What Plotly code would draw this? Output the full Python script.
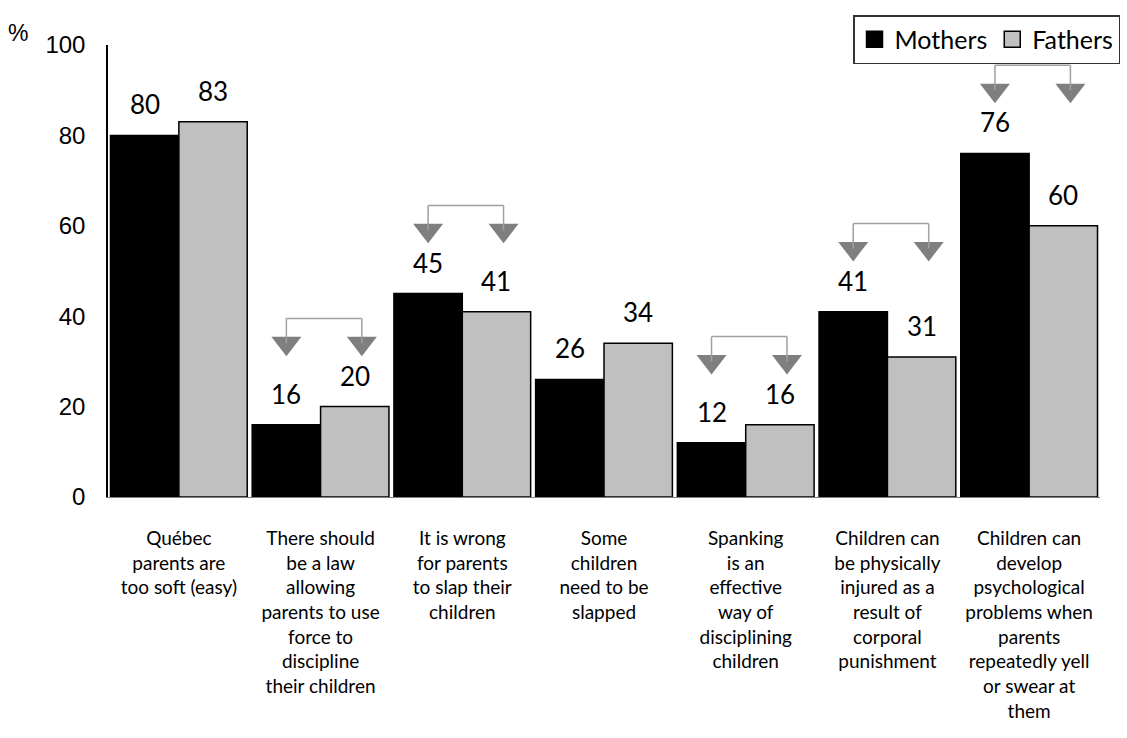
import plotly.graph_objects as go

categories = [
    "Québec<br>parents are<br>too soft (easy)",
    "There should<br>be a law<br>allowing<br>parents to use<br>force to<br>discipline<br>their children",
    "It is wrong<br>for parents<br>to slap their<br>children",
    "Some<br>children<br>need to be<br>slapped",
    "Spanking<br>is an<br>effective<br>way of<br>disciplining<br>children",
    "Children can<br>be physically<br>injured as a<br>result of<br>corporal<br>punishment",
    "Children can<br>develop<br>psychological<br>problems when<br>parents<br>repeatedly yell<br>or swear at<br>them",
]
mothers = [80, 16, 45, 26, 12, 41, 76]
fathers = [83, 20, 41, 34, 16, 31, 60]
significant = [False, True, True, False, True, True, True]
y_ticks = [0, 20, 40, 60, 80, 100]

FONT = "Lato"
bargap = 0.035
bw = (1 - bargap) / 2
xs = list(range(len(categories)))

fig = go.Figure()
fig.add_trace(go.Bar(x=xs, y=mothers, name="Mothers", marker=dict(color="black", line=dict(color="black", width=1.5)), showlegend=False))
fig.add_trace(go.Bar(x=xs, y=fathers, name="Fathers", marker=dict(color="#c0c0c0", line=dict(color="black", width=1.5)), showlegend=False))

# legend proxies
fig.add_trace(go.Scatter(x=[None], y=[None], mode="markers", name="Mothers",
                         marker=dict(symbol="square", size=20, color="black", line=dict(color="black", width=1.5))))
fig.add_trace(go.Scatter(x=[None], y=[None], mode="markers", name="Fathers",
                         marker=dict(symbol="square", size=20, color="#c0c0c0", line=dict(color="black", width=1.5))))

annotations = []
shapes = []
tri_x, tri_y = [], []
for i, (m, f) in enumerate(zip(mothers, fathers)):
    xm = i - bw / 2
    xf = i + bw / 2
    for xv, v in ((xm, m), (xf, f)):
        annotations.append(dict(x=xv, y=v, text=str(v), showarrow=False, yanchor="middle", yshift=31,
                                font=dict(family=FONT, size=26, color="black")))
    if significant[i]:
        top = max(m, f) + 19.5
        tri = top - 5.5
        line = dict(color="#a0a0a0", width=1.5)
        shapes.append(dict(type="line", xref="x", yref="y", x0=xm, x1=xf + 0.05, y0=top, y1=top, line=line))
        shapes.append(dict(type="line", xref="x", yref="y", x0=xm, x1=xm, y0=top, y1=tri, line=line))
        shapes.append(dict(type="line", xref="x", yref="y", x0=xf + 0.05, x1=xf + 0.05, y0=top, y1=tri, line=line))
        tri_x += [xm, xf + 0.05]
        tri_y += [tri, tri]

fig.add_trace(go.Scatter(x=tri_x, y=tri_y, mode="markers", showlegend=False, hoverinfo="skip",
                         marker=dict(symbol="triangle-down", size=26, color="#7f7f7f")))

annotations.append(dict(x=(18 - 108) / (1100 - 108), y=1 + (45 - 33) / (497 - 45), xref="paper", yref="paper",
                        text="%", showarrow=False, xanchor="center", yanchor="middle",
                        font=dict(family="Liberation Sans", size=23, color="black")))

fig.update_layout(
    width=1127, height=738,
    margin=dict(l=108, r=27, t=45, b=241, autoexpand=False),
    barmode="group", bargap=bargap, bargroupgap=0,
    plot_bgcolor="white", paper_bgcolor="white",
    font=dict(family=FONT, color="black"),
    shapes=shapes, annotations=annotations,
    legend=dict(orientation="h", xref="container", yref="container", x=1120 / 1127, xanchor="right",
                y=1 - 15 / 738, yanchor="top", bordercolor="#333333", borderwidth=1.5,
                font=dict(family=FONT, size=25, color="black"), bgcolor="white",
                itemwidth=30, tracegroupgap=0),
    xaxis=dict(range=[-0.5, 6.5], tickvals=xs, ticktext=categories, showgrid=False, zeroline=False,
               showline=True, linecolor="#808080", linewidth=1, ticks="", ticklabelstandoff=24,
               tickfont=dict(family=FONT, size=19, color="black")),
    yaxis=dict(range=[0, 100], tickvals=y_ticks, showgrid=False, zeroline=False, showline=True,
               linecolor="black", linewidth=1.5, ticks="", ticklabelstandoff=16,
               tickfont=dict(family="Liberation Sans", size=24, color="black")),
)

fig.write_html("out.html")
